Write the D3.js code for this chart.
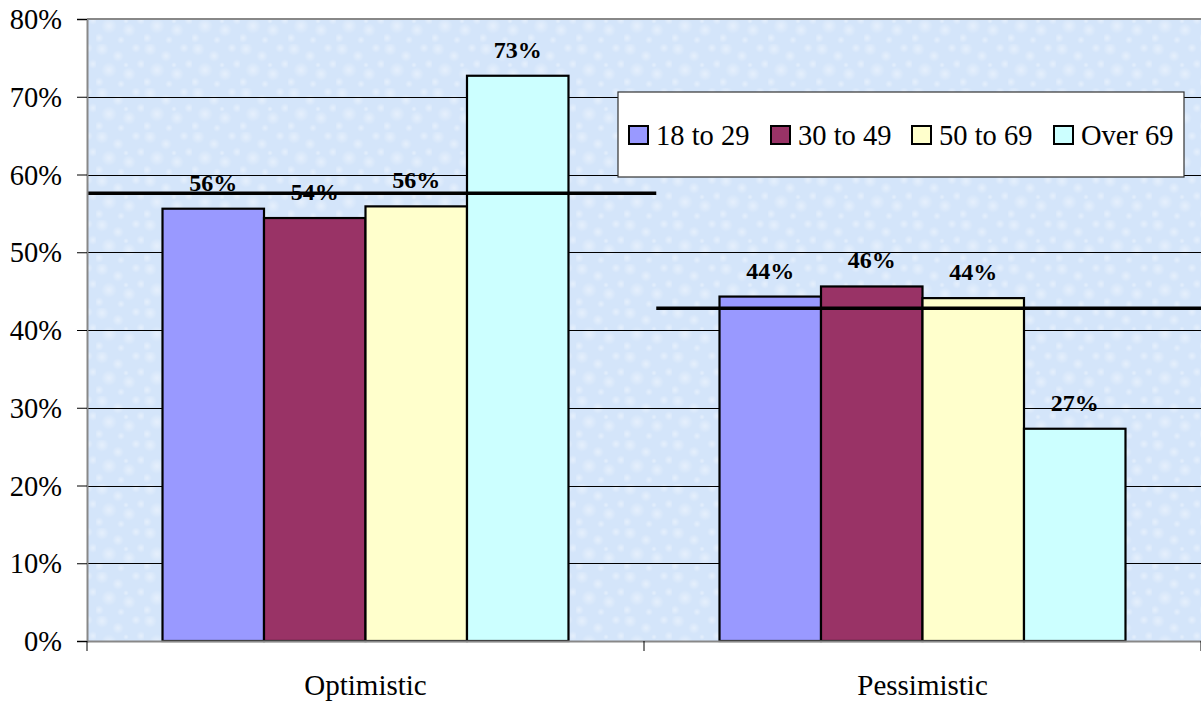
<!DOCTYPE html>
<html><head><meta charset="utf-8">
<script src="https://cdn.jsdelivr.net/npm/d3@7/dist/d3.min.js"></script>
<style>
html,body{margin:0;padding:0;background:#fff;}
svg{display:block;}
#chart text{font-family:"Liberation Serif",serif !important;}
</style></head>
<body>
<svg id="chart" width="1201" height="704" font-family="Liberation Serif"></svg>
<script>
const categories = ["Optimistic", "Pessimistic"];
const seriesNames = ["18 to 29", "30 to 49", "50 to 69", "Over 69"];
const seriesColors = ["#9999ff", "#993366", "#ffffcc", "#ccffff"];
const age18to29 = [0.556, 0.443];
const age30to49 = [0.544, 0.456];
const age50to69 = [0.559, 0.441];
const ageOver69 = [0.727, 0.273];
const dataLabels = [["56%", "44%"], ["54%", "46%"], ["56%", "44%"], ["73%", "27%"]];
const overallAverage = [0.576, 0.428];
const yTicks = [0, 0.1, 0.2, 0.3, 0.4, 0.5, 0.6, 0.7, 0.8];
const yTickLabels = ["0%", "10%", "20%", "30%", "40%", "50%", "60%", "70%", "80%"];

const series = [age18to29, age30to49, age50to69, ageOver69];
const FONT = "Liberation Serif";

const W = 1201, H = 704;
const m = {left: 87, top: 19, right: 0, bottom: 63};
const svg = d3.select("#chart");

const x = d3.scaleBand().domain(categories).range([m.left, W - m.right]).padding(0);
const x1 = d3.scaleBand().domain(seriesNames).range([0, x.bandwidth()]).paddingInner(0).paddingOuter(0.744);
const y = d3.scaleLinear().domain([0, 0.8]).range([H - m.bottom, m.top]);

function setFont(sel, size, weight) {
  sel.each(function () {
    this.style.setProperty("font-family", FONT, "important");
    this.style.setProperty("font-size", size + "px", "important");
    this.style.setProperty("font-weight", weight || "normal", "important");
  });
}

// mottled background texture (pattern of soft light spots)
const defs = svg.append("defs");
const rg = defs.append("radialGradient").attr("id", "spot");
rg.append("stop").attr("offset", "0%").attr("stop-color", "#fff").attr("stop-opacity", 0.4);
rg.append("stop").attr("offset", "100%").attr("stop-color", "#fff").attr("stop-opacity", 0);
const pat = defs.append("pattern").attr("id", "tex").attr("patternUnits", "userSpaceOnUse")
  .attr("width", 48).attr("height", 44);
pat.append("rect").attr("width", 48).attr("height", 44).attr("fill", "#d4e5fa");
const spots = [[6, 5, 7], [22, 12, 6], [40, 4, 5], [13, 26, 8], [33, 30, 7], [45, 20, 5], [3, 38, 5], [25, 40, 4], [30, 21, 3]];
spots.forEach(s => {
  pat.append("circle").attr("cx", s[0]).attr("cy", s[1]).attr("r", s[2]).attr("fill", "url(#spot)");
});

const pw = W - m.right - m.left, ph = y(0) - y(0.8);
svg.append("rect").attr("x", m.left).attr("y", m.top).attr("width", pw).attr("height", ph)
  .attr("fill", "url(#tex)");

// gridlines
svg.append("g").selectAll("line").data(yTicks.filter(t => t > 0 && t < 0.8)).join("line")
  .attr("x1", m.left).attr("x2", W - m.right).attr("y1", d => Math.round(y(d)) + 0.5).attr("y2", d => Math.round(y(d)) + 0.5)
  .attr("stroke", "#000").attr("stroke-width", 1);

// plot top border
svg.append("line").attr("x1", m.left).attr("x2", W).attr("y1", y(0.8)).attr("y2", y(0.8))
  .attr("stroke", "#888").attr("stroke-width", 2);

// bars
const bars = svg.append("g");
series.forEach((vals, si) => {
  bars.append("g").selectAll("rect").data(categories).join("rect")
    .attr("x", c => x(c) + x1(seriesNames[si]))
    .attr("y", (c, ci) => y(vals[ci]))
    .attr("width", x1.bandwidth())
    .attr("height", (c, ci) => y(0) - y(vals[ci]))
    .attr("fill", seriesColors[si])
    .attr("stroke", "#000").attr("stroke-width", 2.2);
});

// average lines
svg.append("g").selectAll("line").data(categories).join("line")
  .attr("x1", (c, i) => i === 0 ? x(c) : x(c) + x.step() * 0.022)
  .attr("x2", (c, i) => i === 0 ? x(c) + x.step() * 1.022 : x(c) + x.step())
  .attr("y1", (c, i) => y(overallAverage[i])).attr("y2", (c, i) => y(overallAverage[i]))
  .attr("stroke", "#000").attr("stroke-width", 3.5);

// data labels
series.forEach((vals, si) => {
  const t = svg.append("g").selectAll("text").data(categories).join("text")
    .attr("x", c => x(c) + x1(seriesNames[si]) + x1.bandwidth() / 2)
    .attr("y", (c, ci) => y(vals[ci]) - 18)
    .attr("text-anchor", "middle")
    .text((c, ci) => dataLabels[si][ci]);
  setFont(t, 24, "bold");
});

// y axis
const yAxis = d3.axisLeft(y).tickValues(yTicks).tickFormat((d, i) => yTickLabels[i]).tickSize(10).tickPadding(15);
const gy = svg.append("g").attr("transform", `translate(${m.left},0)`).call(yAxis)
  .attr("font-family", FONT);
gy.select(".domain").attr("stroke", "#888").attr("stroke-width", 2);
gy.selectAll(".tick line").attr("stroke", "#000");
gy.selectAll("text").attr("dy", "0.34em").attr("fill", "#000");
setFont(gy.selectAll("text"), 28.5);

// x axis
const xAxis = d3.axisBottom(x).tickSize(0).tickPadding(33);
const gx = svg.append("g").attr("transform", `translate(0,${y(0)})`).call(xAxis)
  .attr("font-family", FONT);
gx.select(".domain").attr("stroke", "#888").attr("stroke-width", 2);
gx.selectAll("text").attr("fill", "#000");
setFont(gx.selectAll("text"), 29);
const boundaries = categories.map(c => x(c)).concat([x.range()[1]]);
svg.append("g").selectAll("line").data(boundaries).join("line")
  .attr("x1", d => d).attr("x2", d => d).attr("y1", y(0)).attr("y2", y(0) + 10)
  .attr("stroke", "#000").attr("stroke-width", 1);

// legend
const lg = svg.append("g").attr("transform", "translate(618,92)");
lg.append("rect").attr("width", 566).attr("height", 85).attr("fill", "#fff").attr("stroke", "#333").attr("stroke-width", 1.2);
const legendX = [11, 153, 294, 436];
seriesNames.forEach((s, i) => {
  lg.append("rect").attr("x", legendX[i]).attr("y", 34).attr("width", 19).attr("height", 18)
    .attr("fill", seriesColors[i]).attr("stroke", "#000").attr("stroke-width", 2);
  const t = lg.append("text").attr("x", legendX[i] + 27).attr("y", 53).text(s);
  setFont(t, 28.5);
});
</script>
</body></html>
